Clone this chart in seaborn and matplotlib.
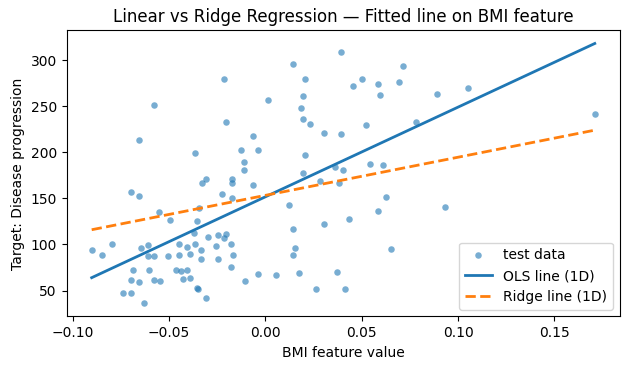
import pandas as pd
import matplotlib
matplotlib.use("Agg")
import matplotlib.pyplot as plt
import seaborn as sns

# test data (BMI feature vs disease progression)
bmi = [
    -0.0576, -0.0654, -0.0365,
    -0.0902, -0.0851, -0.0794, -0.0697, -0.0654, -0.0555, -0.0493, -0.0644,
    -0.0612, -0.0612, -0.0576, -0.0685, -0.0602, -0.0697, -0.0654, -0.0576,
    -0.0545, -0.0742, -0.0697, -0.0633, -0.0504, -0.0464, -0.0436, -0.0405,
    -0.0426, -0.0393, -0.0447, -0.0447, -0.0405, -0.0393, -0.0364, -0.0333,
    -0.0333, -0.0372, -0.0353, -0.0343, -0.0331, -0.0308, -0.0298, -0.0353,
    -0.0350, -0.0308,
    -0.0175, -0.0175, -0.0063, -0.0224, -0.0175, -0.0245, -0.0203, -0.0213,
    -0.0255, -0.0177, -0.0167, -0.0245, -0.0177, -0.0105, -0.0037, 0.0056,
    0.0123, 0.0144, 0.0154, 0.0144, 0.0175, 0.0284, 0.0305, 0.0263,
    0.0370, 0.0413, 0.0382, 0.0436,
    0.0391, 0.0144, -0.0215, 0.0206, 0.0015, 0.0196, 0.0185, -0.0203,
    0.0196, 0.0232, -0.0063, 0.0305, 0.0391, -0.0125, -0.0037, -0.0114,
    -0.0114, 0.0206, 0.0196, 0.0362, 0.0403,
    0.0714, 0.0455, 0.0502, 0.0584, 0.0595, 0.0693, 0.0890, 0.1051,
    0.0781, 0.0522, 0.1709, 0.0543, 0.0610,
    0.0623, 0.0584, 0.0932, 0.0652,
]
progression = [
    251, 213, 199,
    94, 89, 101, 157, 153, 135, 127, 96,
    99, 88, 87, 72, 72, 62, 59, 62,
    60, 47, 47, 36, 87, 72, 71, 72,
    63, 64, 101, 89, 97, 90, 101, 94,
    84, 113, 125, 140, 167, 171, 108, 53,
    52, 42,
    171, 167, 164, 155, 150, 110, 111, 107,
    98, 101, 89, 84, 76, 60, 68, 67,
    143, 117, 96, 89, 69, 169, 122, 52,
    70, 52, 167, 128,
    309, 296, 280, 280, 257, 261, 248, 233,
    236, 231, 218, 221, 220, 202, 202, 189,
    181, 197, 178, 184, 181,
    294, 272, 279, 274, 262, 276, 263, 270,
    233, 230, 241, 187, 186,
    152, 136, 141, 95,
]

# fitted lines over the test range
line_x = [min(bmi), max(bmi)]
ols_y = [64, 318]
ridge_y = [116, 224]

df = pd.DataFrame({"bmi": bmi, "progression": progression})
df_ols = pd.DataFrame({"x": line_x, "y": ols_y})
df_ridge = pd.DataFrame({"x": line_x, "y": ridge_y})

fig, ax = plt.subplots(figsize=(6.3, 3.7), dpi=100)

sns.scatterplot(data=df, x="bmi", y="progression", s=22, alpha=0.6,
                color="#1f77b4", linewidth=0, label="test data", ax=ax)
sns.lineplot(data=df_ols, x="x", y="y", color="#1f77b4", linewidth=2,
             label="OLS line (1D)", ax=ax)
sns.lineplot(data=df_ridge, x="x", y="y", color="#ff7f0e", linewidth=2,
             linestyle="--", label="Ridge line (1D)", ax=ax)

ax.set_title("Linear vs Ridge Regression — Fitted line on BMI feature")
ax.set_xlabel("BMI feature value")
ax.set_ylabel("Target: Disease progression")
ax.legend(loc="lower right")

fig.subplots_adjust(left=0.1056, right=0.984, top=0.9176, bottom=0.1446)
plt.savefig("out.png", dpi=100)
plt.close()
